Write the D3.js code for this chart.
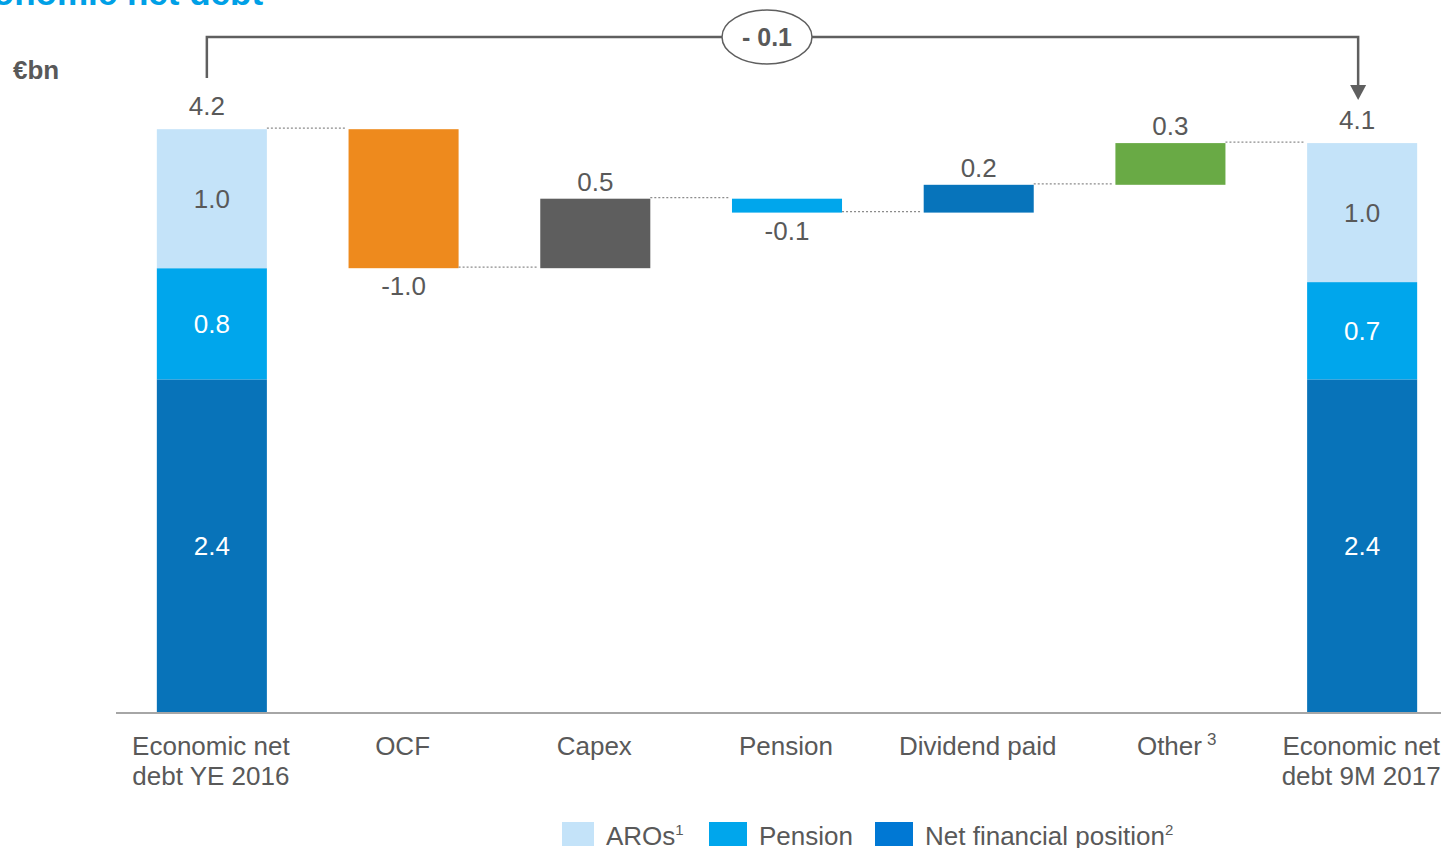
<!DOCTYPE html>
<html><head><meta charset="utf-8">
<script src="https://cdn.jsdelivr.net/npm/d3@7"></script>
<style>
html,body{margin:0;padding:0;background:#fff;overflow:hidden}
text{font-family:"Liberation Sans",Arial,sans-serif}
</style></head>
<body><svg id="c" width="1441" height="848"></svg>
<script>
// ---- data ----
const categories = ["Economic net debt YE 2016","OCF","Capex","Pension","Dividend paid","Other","Economic net debt 9M 2017"];
const categoryLines = [["Economic net","debt YE 2016"],["OCF"],["Capex"],["Pension"],["Dividend paid"],["Other"],["Economic net","debt 9M 2017"]];
const categorySup = ["","","","","","3",""];
const stackKeys = ["Net financial position","Pension","AROs"];
const startStack = [2.4, 0.8, 1.0];
const endStack = [2.4, 0.7, 1.0];
const deltaValues = [-1.0, 0.5, -0.1, 0.2, 0.3];
const bridgeLabel = "- 0.1";
const unitLabel = "€bn";
const titleText = "Economic net debt";
const legendLabels = ["AROs","Pension","Net financial position"];
const legendSups = ["1","","2"];

// ---- styles ----
const stackColors = {"Net financial position":"#0873b9","Pension":"#00a6ec","AROs":"#c4e3f9"};
const stackTextColors = {"Net financial position":"#fff","Pension":"#fff","AROs":"#595959"};
const legendColors = ["#c4e3f9","#00a6ec","#0078d4"];
const deltaColors = ["#ee8a1d","#5e5e5e","#00a6ec","#0774bb","#69aa45"];
const textCol = "#595959";

const svg = d3.select("#c");
const x = d3.scaleBand().domain(categories).range([116,1458]).paddingInner(0.426).paddingOuter(0.213);
const y = d3.scaleLinear().domain([0,4.2]).range([713,129.2]);
const bw = x.bandwidth();
const fmt = v => d3.format(".1f")(v).replace("\u2212","-");

// title (partially cut)
svg.append("text").attr("x",-50).attr("y",5).attr("font-size",35).attr("font-weight","bold")
  .attr("fill","#00a0e6").text(titleText);
svg.append("text").attr("x",13).attr("y",79).attr("font-size",26).attr("font-weight","bold")
  .attr("fill",textCol).text(unitLabel);

// stacked totals
function drawStack(cat, vals){
  let acc=0;
  vals.forEach((v,i)=>{
    const y0=y(acc), y1=y(acc+v);
    svg.append("rect").attr("x",x(cat)).attr("y",y1).attr("width",bw).attr("height",y0-y1)
      .attr("fill",stackColors[stackKeys[i]]);
    svg.append("text").attr("x",x(cat)+bw/2).attr("y",(y0+y1)/2).attr("dy","0.35em")
      .attr("text-anchor","middle").attr("font-size",26).attr("fill",stackTextColors[stackKeys[i]]).text(fmt(v));
    acc+=v;
  });
  svg.append("text").attr("x",x(cat)+bw/2-5).attr("y",y(acc)-14).attr("text-anchor","middle")
    .attr("font-size",26).attr("fill",textCol).text(fmt(acc));
  return acc;
}
const startTotal = drawStack(categories[0], startStack);

// deltas
let level = startTotal;
const levels=[startTotal];
deltaValues.forEach((d,i)=>{
  const cat = categories[i+1];
  const a=level, b=level+d;
  const top=y(Math.max(a,b)), bot=y(Math.min(a,b));
  svg.append("rect").attr("x",x(cat)).attr("y",top).attr("width",bw).attr("height",bot-top).attr("fill",deltaColors[i]);
  svg.append("text").attr("x",x(cat)+bw/2).attr("y", d<0 ? bot+27 : top-8).attr("text-anchor","middle")
    .attr("font-size",26).attr("fill",textCol).text(fmt(d));
  level=b; levels.push(level);
});
const endTotal = drawStack(categories[6], endStack);

// connectors
levels.forEach((lv,i)=>{
  const x1 = x(categories[i])+bw, x2 = x(categories[i+1])-2;
  svg.append("line").attr("x1",x1).attr("x2",x2).attr("y1",y(lv)-1).attr("y2",y(lv)-1)
    .attr("stroke","#8c8c8c").attr("stroke-width",1.2).attr("stroke-dasharray","2,2");
});

// axis
svg.append("line").attr("x1",116).attr("x2",1441).attr("y1",713).attr("y2",713).attr("stroke","#a6a6a6").attr("stroke-width",2);
categories.forEach((c,i)=>{
  const cx = x(c)+bw/2-1;
  const t = svg.append("text").attr("x",cx).attr("y",755).attr("text-anchor","middle").attr("font-size",26).attr("fill",textCol);
  categoryLines[i].forEach((ln,j)=>{
    t.append("tspan").attr("x",cx).attr("dy", j===0?0:30).text(ln);
  });
  if(categorySup[i]){
    const w = t.node().getComputedTextLength();
    svg.append("text").attr("x",cx+w/2+5).attr("y",745).attr("font-size",17).attr("fill",textCol).text(categorySup[i]);
  }
});

// bracket
const lx = x(categories[0])+bw/2-5, rx = x(categories[6])+bw/2-4;
svg.append("path").attr("d",`M${lx},78 V37 H${rx} V88`).attr("fill","none").attr("stroke","#5f5f5f").attr("stroke-width",2.5);
svg.append("path").attr("d",`M${rx-8},85 L${rx+8},85 L${rx},100 Z`).attr("fill","#5f5f5f");
svg.append("ellipse").attr("cx",767).attr("cy",37).attr("rx",45).attr("ry",27).attr("fill","#fff").attr("stroke","#5f5f5f").attr("stroke-width",1.5);
svg.append("text").attr("x",767).attr("y",37).attr("dy","0.35em").attr("text-anchor","middle").attr("font-size",25)
  .attr("font-weight","bold").attr("fill",textCol).text(bridgeLabel);

// legend
const legX=[562,709,875], swW=[32,38,38];
legendLabels.forEach((l,i)=>{
  svg.append("rect").attr("x",legX[i]).attr("y",822).attr("width",swW[i]).attr("height",24).attr("fill",legendColors[i]);
  const t = svg.append("text").attr("x",legX[i]+swW[i]+12).attr("y",845).attr("font-size",26).attr("fill",textCol).text(l);
  if(legendSups[i]) t.append("tspan").attr("font-size",15).attr("dy",-10).text(legendSups[i]);
});
</script></body></html>
